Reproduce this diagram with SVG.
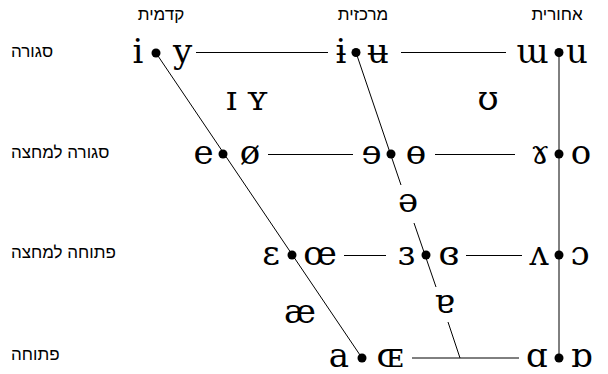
<svg xmlns="http://www.w3.org/2000/svg" width="608" height="374" viewBox="0 0 608 374">
<style>
.v{font-family:"DejaVu Serif",serif;font-size:34px;fill:#000;text-anchor:middle}
.h{font-family:"Liberation Sans","DejaVu Sans",sans-serif;font-size:17px;fill:#000}
.c{text-anchor:middle}
.ln{stroke:#000;stroke-width:1;fill:none}
.dot{fill:#000}
</style>
<rect width="608" height="374" fill="#fff"/>
<g id="connectors">
<line class="ln" x1="156" y1="53" x2="362" y2="358"/>
<line class="ln" x1="356" y1="52.5" x2="401" y2="185"/>
<line class="ln" x1="414" y1="223" x2="436" y2="287"/>
<line class="ln" x1="448" y1="322" x2="460" y2="358"/>
<line class="ln" x1="559" y1="52.5" x2="559" y2="358"/>
<line class="ln" x1="196" y1="52.5" x2="328" y2="52.5"/>
<line class="ln" x1="401" y1="52.5" x2="506" y2="52.5"/>
<line class="ln" x1="268" y1="154.5" x2="353" y2="154.5"/>
<line class="ln" x1="435" y1="154.5" x2="515" y2="154.5"/>
<line class="ln" x1="344" y1="255.5" x2="386" y2="255.5"/>
<line class="ln" x1="466" y1="255.5" x2="522" y2="255.5"/>
<line class="ln" x1="412" y1="358" x2="519" y2="358" stroke="#555"/>
</g>
<g id="labels-columns">
<text class="h c" x="161" y="20">קדמית</text>
<text class="h c" x="363" y="20">מרכזית</text>
<text class="h c" x="557" y="20">אחורית</text>
</g>
<g id="labels-rows">
<text class="h" x="11" y="57">סגורה</text>
<text class="h" x="11" y="158">סגורה למחצה</text>
<text class="h" x="11" y="258">פתוחה למחצה</text>
<text class="h" x="11" y="360">פתוחה</text>
</g>
<g id="close-front"><text class="v" x="138" y="63">i</text><circle class="dot" cx="156" cy="53" r="4.5"/><text class="v" x="182.5" y="63">y</text></g>
<g id="close-central"><text class="v" x="341" y="63">ɨ</text><circle class="dot" cx="356" cy="52.5" r="4.5"/><text class="v" x="378" y="63">ʉ</text></g>
<g id="close-back"><text class="v" x="532.5" y="63">ɯ</text><circle class="dot" cx="559" cy="52.5" r="4.5"/><text class="v" x="577" y="63">u</text></g>
<g id="near-close-front"><text class="v" x="231.5" y="110">ɪ</text><text class="v" x="257.5" y="110">ʏ</text></g>
<g id="near-close-back"><text class="v" x="488" y="110">ʊ</text></g>
<g id="close-mid-front"><text class="v" x="203.5" y="164">e</text><circle class="dot" cx="223" cy="154" r="4.5"/><text class="v" x="250" y="164">ø</text></g>
<g id="close-mid-central"><text class="v" x="371.5" y="164">ɘ</text><circle class="dot" cx="391" cy="154" r="4.5"/><text class="v" x="416" y="164">ɵ</text></g>
<g id="close-mid-back"><text class="v" x="540" y="164">ɤ</text><circle class="dot" cx="559" cy="154" r="4.5"/><text class="v" x="581" y="164">o</text></g>
<g id="mid-central"><text class="v" x="408" y="212">ə</text></g>
<g id="open-mid-front"><text class="v" x="271" y="265">ɛ</text><circle class="dot" cx="292" cy="255" r="4.5"/><text class="v" x="320" y="265">œ</text></g>
<g id="open-mid-central"><text class="v" x="406.5" y="265">ɜ</text><circle class="dot" cx="426" cy="255" r="4.5"/><text class="v" x="449" y="265">ɞ</text></g>
<g id="open-mid-back"><text class="v" x="539" y="265">ʌ</text><circle class="dot" cx="559" cy="255" r="4.5"/><text class="v" x="580" y="265">ɔ</text></g>
<g id="near-open-front"><text class="v" x="300" y="323">æ</text></g>
<g id="near-open-central"><text class="v" x="444.5" y="313">ɐ</text></g>
<g id="open-front"><text class="v" x="339" y="367">a</text><circle class="dot" cx="362" cy="358" r="4.5"/><text class="v" x="390" y="367">ɶ</text></g>
<g id="open-back"><text class="v" x="537" y="367">ɑ</text><circle class="dot" cx="559" cy="358" r="4.5"/><text class="v" x="581.5" y="367">ɒ</text></g>
</svg>
